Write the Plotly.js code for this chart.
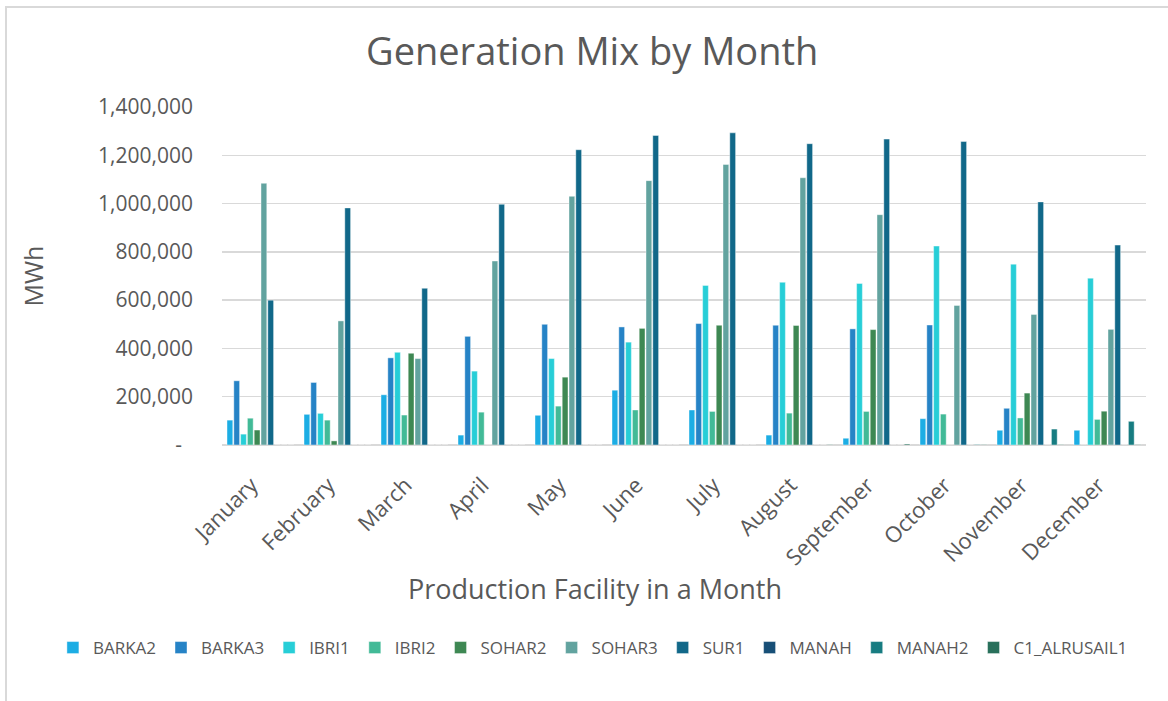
<!DOCTYPE html>
<html>
<head>
<meta charset="utf-8">
<script src="https://cdn.plot.ly/plotly-3.0.1.min.js"></script>
<style>
  html, body { margin: 0; padding: 0; background: #ffffff; overflow: hidden; }
  #frame { position: absolute; left: 5px; top: 6px; width: 1400px; height: 900px; border: 2px solid #d9d9d9; box-sizing: border-box; }
  #chart { position: absolute; left: 0; top: 0; width: 1168px; height: 701px; }
</style>
</head>
<body>
<div id="frame"></div>
<div id="chart"></div>
<script>
const months = ["January","February","March","April","May","June","July","August","September","October","November","December"];

const BARKA2 = [103000,127000,208000,41000,123000,227000,145000,41000,28000,109000,61000,61000];
const BARKA3 = [266000,259000,361000,450000,500000,489000,503000,496000,481000,497000,152000,0];
const IBRI1  = [45000,131000,384000,306000,358000,426000,661000,674000,669000,824000,749000,691000];
const IBRI2  = [111000,103000,124000,136000,161000,145000,139000,132000,139000,128000,112000,106000];
const SOHAR2 = [62000,17000,380000,0,281000,483000,496000,495000,478000,0,215000,140000];
const SOHAR3 = [1084000,514000,358000,762000,1030000,1095000,1162000,1107000,954000,578000,541000,479000];
const SUR1   = [600000,982000,649000,997000,1223000,1282000,1293000,1248000,1267000,1257000,1007000,828000];
const MANAH  = [0,0,0,0,0,0,0,0,0,0,0,0];
const MANAH2 = [0,0,0,0,0,0,0,0,0,2000,66000,98000];
const C1_ALRUSAIL1 = [0,0,0,0,0,0,0,1500,4000,1500,1500,1500];

const seriesNames = ["BARKA2","BARKA3","IBRI1","IBRI2","SOHAR2","SOHAR3","SUR1","MANAH","MANAH2","C1_ALRUSAIL1"];
const seriesValues = [BARKA2,BARKA3,IBRI1,IBRI2,SOHAR2,SOHAR3,SUR1,MANAH,MANAH2,C1_ALRUSAIL1];
const seriesColors = ["#1CADE4","#2683C6","#27CED7","#42BA97","#3E8853","#62A39F","#116889","#174F77","#177C81","#28705B"];

const yTickVals = [0,200000,400000,600000,800000,1000000,1200000,1400000];
const yTickText = ["-\u00a0\u00a0","200,000","400,000","600,000","800,000","1,000,000","1,200,000","1,400,000"];

const FONT = "'Open Sans', 'DejaVu Sans', sans-serif";
const GRAY = "#595959";

const traces = seriesNames.map((n, i) => ({
  type: "bar",
  name: n,
  x: months,
  y: seriesValues[i],
  marker: { color: seriesColors[i], line: { color: "rgba(255,255,255,0.7)", width: 0.6 } },
  hoverinfo: "x+y+name"
}));

const layout = {
  width: 1168,
  height: 701,
  paper_bgcolor: "rgba(0,0,0,0)",
  plot_bgcolor: "rgba(0,0,0,0)",
  margin: { l: 222, r: 22, t: 107, b: 256, pad: 0 },
  barmode: "group",
  bargap: 0.117,
  bargroupgap: 0.15,
  font: { family: FONT, color: GRAY, size: 20 },
  title: {
    text: "Generation Mix by Month",
    font: { family: FONT, size: 38, color: GRAY },
    xref: "container", x: 0.507, xanchor: "center",
    yref: "container", y: 0.926, yanchor: "middle"
  },
  xaxis: {
    type: "category",
    range: [-0.5, 11.5],
    tickangle: -45,
    tickfont: { family: FONT, size: 22, color: GRAY },
    ticks: "",
    showgrid: false,
    showline: false,
    ticklabelstandoff: 22,
    ticklabelshift: -9,
    automargin: false
  },
  yaxis: {
    range: [0, 1400000],
    tickvals: yTickVals,
    ticktext: yTickText,
    tickfont: { family: FONT, size: 21, color: GRAY },
    ticks: "",
    showgrid: true,
    gridcolor: "#d9d9d9",
    gridwidth: 1.5,
    zeroline: true,
    zerolinecolor: "#d9d9d9",
    zerolinewidth: 1.5,
    showline: false,
    ticklabelstandoff: 28,
    automargin: false,
    title: { text: "MWh", font: { family: FONT, size: 25, color: GRAY }, standoff: 47 }
  },
  annotations: [{
    text: "Production Facility in a Month",
    xref: "paper", yref: "paper",
    x: 0.404, y: -0.426, xanchor: "center", yanchor: "middle",
    showarrow: false,
    font: { family: FONT, size: 27, color: GRAY }
  }],
  showlegend: true,
  legend: {
    orientation: "h",
    xref: "paper", x: -0.183, xanchor: "left",
    yref: "paper", y: -0.6006, yanchor: "middle",
    font: { family: FONT, size: 17, color: GRAY },
    itemwidth: 30,
    traceorder: "normal",
    bgcolor: "rgba(0,0,0,0)"
  }
};

Plotly.newPlot("chart", traces, layout, { displayModeBar: false, staticPlot: true });
</script>
</body>
</html>
